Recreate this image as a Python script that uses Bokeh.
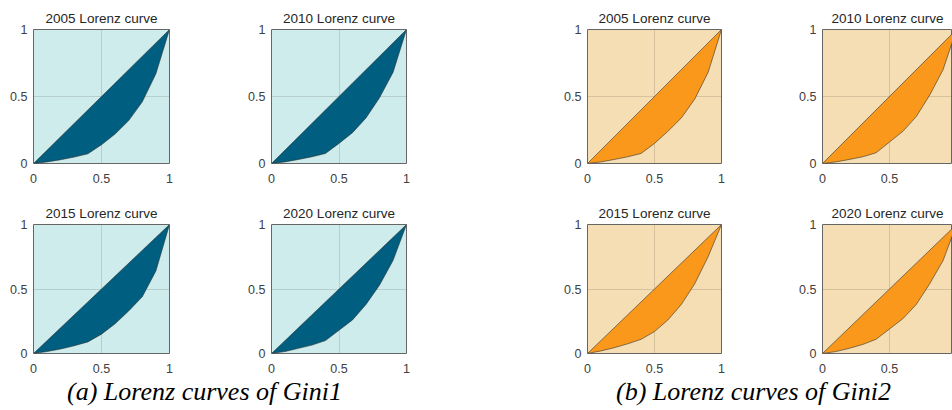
from bokeh.plotting import figure
from bokeh.models import Range1d, FixedTicker
from bokeh.core.properties import value
from bokeh.layouts import column, row
from bokeh.embed import file_html
from bokeh.resources import INLINE

# ---------------- data ----------------
years = ["2005", "2010", "2015", "2020"]
pop_share = [0.0, 0.1, 0.2, 0.3, 0.4, 0.5, 0.6, 0.7, 0.8, 0.9, 1.0]

gini1_2005 = [0, 0.012, 0.028, 0.048, 0.072, 0.14, 0.22, 0.32, 0.46, 0.67, 1]
gini1_2010 = [0, 0.012, 0.030, 0.050, 0.075, 0.15, 0.23, 0.34, 0.49, 0.68, 1]
gini1_2015 = [0, 0.015, 0.035, 0.060, 0.090, 0.15, 0.23, 0.33, 0.44, 0.64, 1]
gini1_2020 = [0, 0.015, 0.040, 0.065, 0.100, 0.18, 0.26, 0.38, 0.53, 0.72, 1]

gini2_2005 = [0, 0.012, 0.030, 0.050, 0.075, 0.15, 0.24, 0.34, 0.48, 0.68, 1]
gini2_2010 = [0, 0.012, 0.030, 0.050, 0.080, 0.16, 0.24, 0.35, 0.51, 0.70, 1]
gini2_2015 = [0, 0.020, 0.045, 0.075, 0.110, 0.17, 0.26, 0.38, 0.54, 0.75, 1]
gini2_2020 = [0, 0.015, 0.040, 0.070, 0.110, 0.19, 0.27, 0.38, 0.54, 0.72, 1]

tick_values = [0, 0.5, 1]
tick_labels = ["0", "0.5", "1"]

captions = ["(a) Lorenz curves of Gini1", "(b) Lorenz curves of Gini2"]

# ---------------- style ----------------
BG1, FILL1 = "#CFECEC", "#005E80"
BG2, FILL2 = "#F5DEB3", "#F9981A"
TXT = "#262626"
TICK_TXT = "#404040"
FONT = "Liberation Sans"


def panel(year, yvals, fill, bg, width, height, left, frame_w, top, bottom,
          x_end=1.0, title_offset=0):
    p = figure(width=width, height=height, output_backend="svg",
               toolbar_location=None, tools="",
               x_range=Range1d(0, x_end), y_range=Range1d(0, 1),
               min_border_left=left, min_border_right=width - left - frame_w,
               min_border_top=top, min_border_bottom=bottom)
    p.background_fill_color = bg
    p.border_fill_color = "white"
    p.outline_line_color = "#666666"
    p.outline_line_width = 1

    p.title.text = f"{year} Lorenz curve"
    p.title.align = "center"
    p.title.text_font = FONT
    p.title.text_font_size = "13.5px"
    p.title.text_font_style = "normal"
    p.title.text_color = TXT
    p.title.standoff = 7
    p.title.offset = title_offset

    for ax in (p.xaxis, p.yaxis):
        ax.ticker = FixedTicker(ticks=tick_values)
        ax.major_label_overrides = dict(zip(tick_values, tick_labels))
        ax.major_tick_in = 0
        ax.major_tick_out = 0
        ax.minor_tick_line_color = None
        ax.axis_line_color = None
        ax.major_label_text_font = FONT
        ax.major_label_text_font_size = "12.5px"
        ax.major_label_text_color = TICK_TXT
    p.xaxis.major_label_standoff = 10
    p.yaxis.major_label_standoff = 6

    p.grid.grid_line_color = "#262626"
    p.grid.grid_line_alpha = 0.15

    p.patch(pop_share, yvals, fill_color=fill, line_color="#2b2b2b",
            line_alpha=0.7, line_width=0.8)
    return p


g1 = [gini1_2005, gini1_2010, gini1_2015, gini1_2020]
g2 = [gini2_2005, gini2_2010, gini2_2015, gini2_2020]

TOP_H, BOT_H = 200, 175
top_row = row(
    panel(years[0], g1[0], FILL1, BG1, 245, TOP_H, 33, 136, 29, 37),
    panel(years[1], g1[1], FILL1, BG1, 316, TOP_H, 25, 136, 29, 37),
    panel(years[0], g2[0], FILL2, BG2, 235, TOP_H, 25, 135, 29, 37),
    panel(years[1], g2[1], FILL2, BG2, 156, TOP_H, 25, 131, 29, 37,
          x_end=131 / 135, title_offset=2),
)
bot_row = row(
    panel(years[2], g1[2], FILL1, BG1, 245, BOT_H, 33, 136, 21, 19),
    panel(years[3], g1[3], FILL1, BG1, 316, BOT_H, 25, 136, 21, 19),
    panel(years[2], g2[2], FILL2, BG2, 235, BOT_H, 25, 135, 21, 19),
    panel(years[3], g2[3], FILL2, BG2, 156, BOT_H, 25, 131, 21, 19,
          x_end=131 / 135, title_offset=2),
)

CAP_H = 35
cap = figure(width=952, height=CAP_H, output_backend="svg",
             toolbar_location=None, tools="", title=None,
             x_axis_type=None, y_axis_type=None,
             x_range=Range1d(0, 952), y_range=Range1d(0, CAP_H),
             min_border=0)
cap.grid.visible = False
cap.outline_line_color = None
cap.background_fill_color = "white"
cap.border_fill_color = "white"
cap.text(x=[204, 753], y=[19, 19], text=captions,
         text_font=value("Liberation Serif"), text_font_style="italic",
         text_font_size="26px", text_color="black", text_align="center",
         text_baseline="alphabetic")

layout = column(top_row, bot_row, cap)
open("out.html", "w").write(file_html(layout, INLINE))
